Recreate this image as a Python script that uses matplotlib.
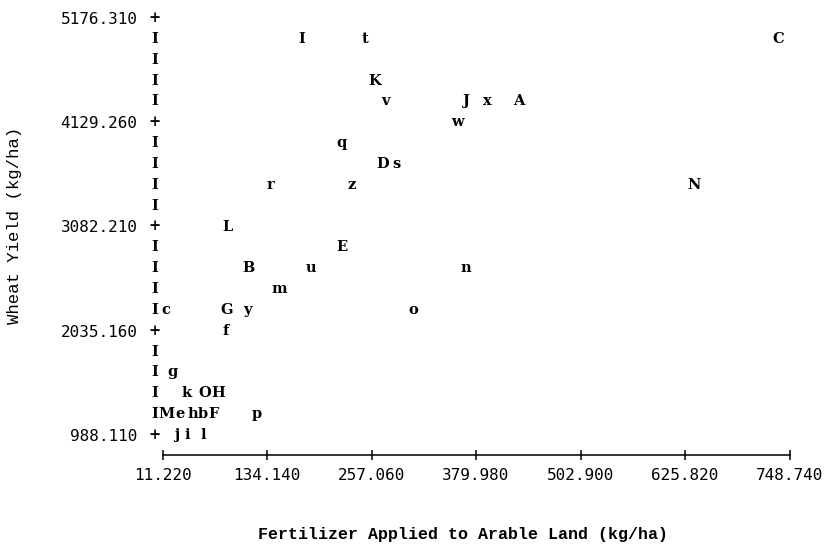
import matplotlib
matplotlib.use("Agg")
import matplotlib.pyplot as plt
import matplotlib.transforms as mtransforms
from matplotlib import font_manager as fm

# ---- data ----
point_labels = ["I", "t", "C", "K", "v", "J", "x", "A", "w", "q", "D", "s", "r", "z", "N",
                "L", "E", "B", "u", "n", "m", "c", "G", "y", "o", "f", "g", "k", "O", "H",
                "M", "e", "h", "b", "F", "p", "j", "i", "l"]
fertilizer = [174.9, 249.4, 735.2, 261.2, 273.0, 369.0, 393.3, 430.9, 358.0, 222.0, 270.6, 285.9,
              137.7, 233.8, 636.4, 87.4, 222.7, 112.1, 185.5, 368.2, 148.6, 15.0, 86.7, 111.0,
              306.5, 85.9, 22.4, 40.0, 61.2, 76.5, 16.0, 32.0, 47.1, 58.9, 71.8, 122.4,
              28.3, 40.0, 58.9]
wheat_yield = [4966.9, 4966.9, 4966.9, 4548.1, 4338.7, 4338.7, 4338.7, 4338.7, 4129.3, 3919.9,
               3710.4, 3710.4, 3501.0, 3501.0, 3501.0, 3082.2, 2872.8, 2663.4, 2663.4, 2663.4,
               2454.0, 2244.6, 2244.6, 2244.6, 2244.6, 2035.2, 1616.3, 1406.9, 1406.9, 1406.9,
               1197.5, 1197.5, 1197.5, 1197.5, 1197.5, 1197.5, 988.1, 988.1, 988.1]

x_ticks = [11.220, 134.140, 257.060, 379.980, 502.900, 625.820, 748.740]
y_ticks = [988.110, 2035.160, 3082.210, 4129.260, 5176.310]
y_rows = [988.110 + i * 209.41 for i in range(21)]

serif_bold = fm.FontProperties(family="DejaVu Serif", weight="bold")
mono_reg = fm.FontProperties(family=["Liberation Mono", "DejaVu Sans Mono"])
mono_bold = fm.FontProperties(family=["Liberation Mono", "DejaVu Sans Mono"], weight="bold")
sans_mono = fm.FontProperties(family="DejaVu Sans Mono")


def fp(base, size):
    p = base.copy()
    p.set_size(size)
    return p


# ---- figure ----
W, H = 832, 551
fig = plt.figure(figsize=(W / 100, H / 100), dpi=100)
ax = fig.add_axes([162.5 / W, (H - 435) / H, 627 / W, 417 / H])
ax.set_xlim(x_ticks[0], x_ticks[-1])
ax.set_ylim(y_ticks[0], y_ticks[-1])

for s in ["left", "top", "right"]:
    ax.spines[s].set_visible(False)
ax.spines["bottom"].set_position(("outward", 14.4))
ax.spines["bottom"].set_linewidth(1.1)

ax.set_xticks(x_ticks)
ax.set_xticklabels([f"{v:.3f}" for v in x_ticks], fontproperties=fp(sans_mono, 11.5))
ax.tick_params(axis="x", direction="inout", length=7, width=1.1, pad=6)

ax.set_yticks(y_ticks)
ax.set_yticklabels([f"{v:.3f}" for v in y_ticks], fontproperties=fp(sans_mono, 11.5))
ax.tick_params(axis="y", length=0, pad=18)

# vertical axis column of '+' and 'I'
trans = mtransforms.blended_transform_factory(ax.transAxes, ax.transData)
xcol = (155 - 162.5) / 627
for i, yv in enumerate(y_rows):
    ch = "+" if i % 5 == 0 else "I"
    ax.text(xcol, yv, ch, transform=trans, ha="center", va="center",
            fontproperties=fp(serif_bold, 10.5), clip_on=False)

# data letters
for lab, xv, yv in zip(point_labels, fertilizer, wheat_yield):
    ax.text(xv, yv, lab, ha="center", va="center", fontproperties=fp(serif_bold, 10.5),
            clip_on=False)

fig.text(15 / W, 1 - 225 / H, "Wheat Yield (kg/ha)", rotation=90, ha="center", va="center",
         fontproperties=fp(mono_reg, 12.5))
fig.text(463 / W, 1 - 535 / H, "Fertilizer Applied to Arable Land (kg/ha)", ha="center",
         va="center", fontproperties=fp(mono_bold, 12))

fig.savefig("out.png", dpi=100)
